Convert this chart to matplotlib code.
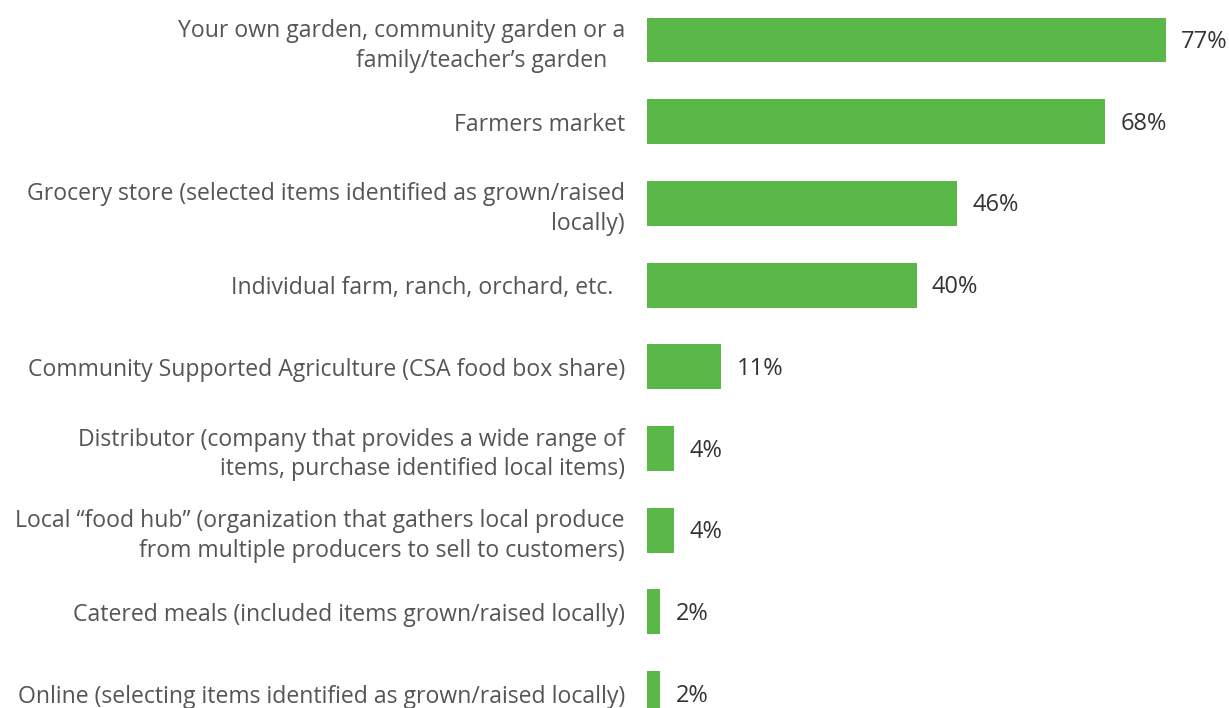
import matplotlib.pyplot as plt

plt.rcParams['font.family'] = ['Open Sans', 'DejaVu Sans']

sources = [
    "Your own garden, community garden or a\nfamily/teacher\u2019s garden   ",
    "Farmers market",
    "Grocery store (selected items identified as grown/raised\nlocally)",
    "Individual farm, ranch, orchard, etc.  ",
    "Community Supported Agriculture (CSA food box share)",
    "Distributor (company that provides a wide range of\nitems, purchase identified local items)",
    "Local \u201cfood hub\u201d (organization that gathers local produce\nfrom multiple producers to sell to customers)",
    "Catered meals (included items grown/raised locally)",
    "Online (selecting items identified as grown/raised locally)",
]
percent = [77, 68, 46, 40, 11, 4, 4, 2, 2]

W, H = 1229, 708
fig = plt.figure(figsize=(W / 100, H / 100), dpi=100)
ax = fig.add_axes([647 / W, 0, 1 - 647 / W, 1])

pos = list(range(len(sources)))
ax.barh(pos, percent, height=0.55, color='#5ab848')

ax.set_xlim(0, (W - 647) / 6.74)
ax.set_ylim((H - 40) / 81.7, -40 / 81.7)

ax.set_yticks(pos)
ax.set_yticklabels(sources, fontsize=16.6, color='#555555', linespacing=1.32)
ax.tick_params(axis='y', length=0, pad=16)
ax.set_xticks([])
for s in ax.spines.values():
    s.set_visible(False)

for p, v in zip(pos, percent):
    ax.annotate(f"{v}%", (v, p), xytext=(11, -1.5), textcoords='offset points',
                va='center', ha='left', fontsize=17, color='#333333')

fig.savefig('out.png', dpi=100)
